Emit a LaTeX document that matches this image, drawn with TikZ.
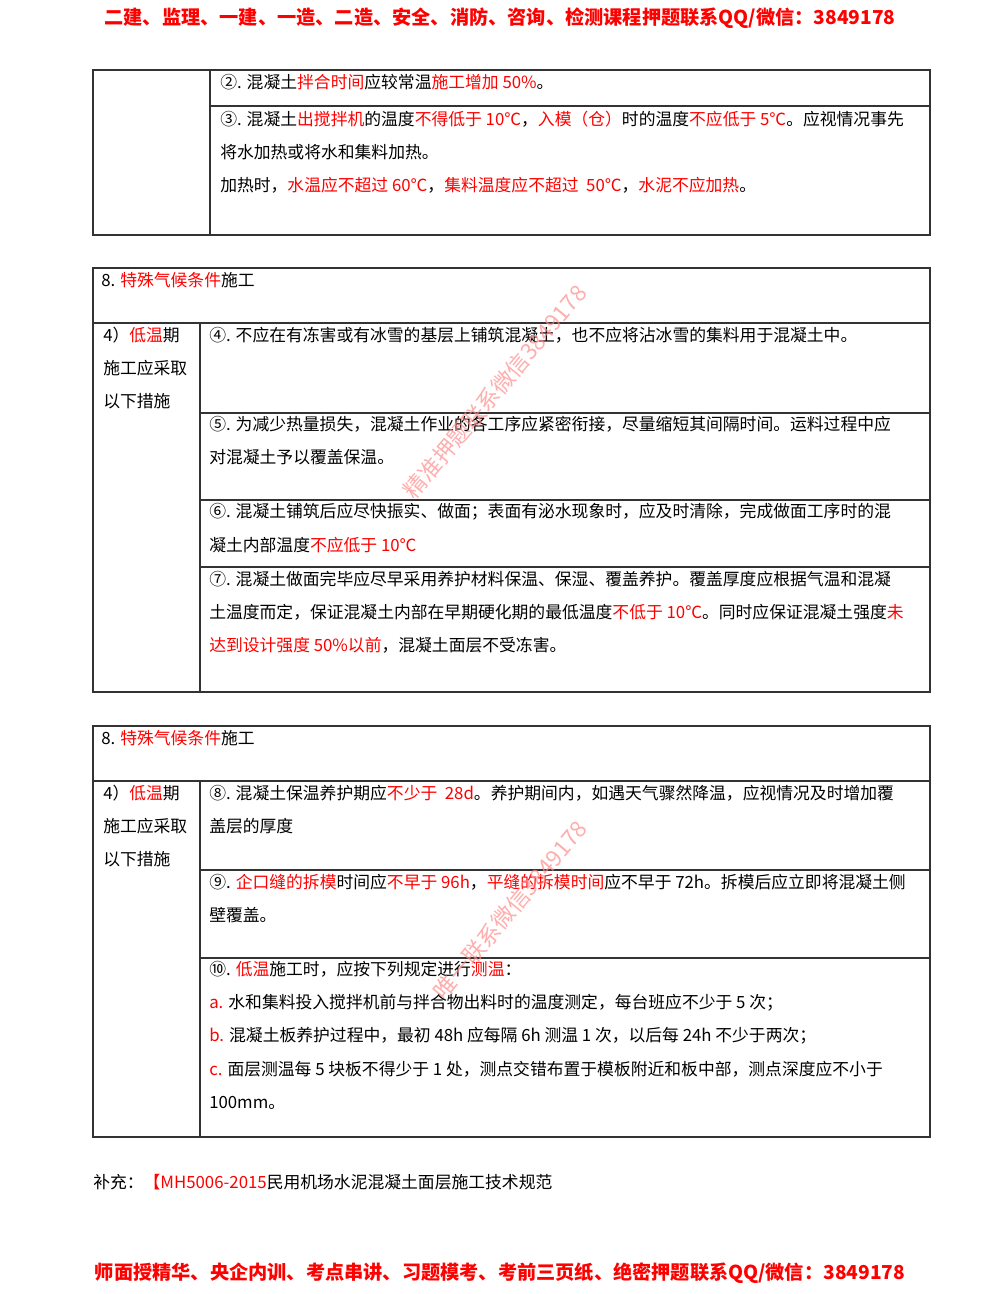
\documentclass[tikz,border=0pt]{standalone}
\usepackage{fontspec}
\setmainfont{Noto Sans CJK SC}
\begin{document}
\begin{tikzpicture}[x=0.75pt,y=-0.75pt,
  tx/.style={anchor=west,inner sep=0,font=\fontsize{12.6}{12.6}\selectfont},
  hd/.style={font=\fontsize{14.4}{14.4}\selectfont\bfseries,text=red,inner sep=0},
  wm/.style={font=\fontsize{17}{17}\selectfont,text=red!45,opacity=0.7,rotate=50,inner sep=0},
  ln/.style={line width=0.8pt,draw=black!80}]
\newcommand\rd[1]{\textcolor{red}{#1}}
\useasboundingbox[fill=white] (0,0) rectangle (1000,1294);
\node[hd] (h1) at (500,18) {二建、监理、一建、一造、二造、安全、消防、咨询、检测课程押题联系QQ/微信：3849178};
% table 1
\draw[ln] (93,70) rectangle (930,235);
\draw[ln] (210,70) -- (210,235);
\draw[ln] (210,106) -- (930,106);
\node[tx] (t1a) at (220,82) {②. 混凝土\rd{拌合时间}应较常温\rd{施工增加 50\%}。};
\node[tx] (t1b) at (220,119) {③. 混凝土\rd{出搅拌机}的温度\rd{不得低于 10℃}，\rd{入模（仓）}时的温度\rd{不应低于 5℃}。应视情况事先};
\node[tx] (t1c) at (220,152) {将水加热或将水和集料加热。};
\node[tx] (t1d) at (220,185) {加热时，\rd{水温应不超过 60℃}，\rd{集料温度应不超过\ \ 50℃}，\rd{水泥不应加热}。};
% table 2
\draw[ln] (93,268) rectangle (930,692);
\draw[ln] (93,323) -- (930,323);
\draw[ln] (200,323) -- (200,692);
\foreach \yy in {413,500,567} \draw[ln] (200,\yy) -- (930,\yy);
\node[tx] (t2h) at (101,280) {8. \rd{特殊气候条件}施工};
\node[tx] (t2l1) at (103,335) {4）\rd{低温}期};
\node[tx] (t2l2) at (103,368) {施工应采取};
\node[tx] (t2l3) at (103,401) {以下措施};
\node[tx] (t2a) at (209,335) {④. 不应在有冻害或有冰雪的基层上铺筑混凝土，也不应将沾冰雪的集料用于混凝土中。};
\node[tx] (t2b) at (209,424) {⑤. 为减少热量损失，混凝土作业的各工序应紧密衔接，尽量缩短其间隔时间。运料过程中应};
\node[tx] (t2c) at (209,457) {对混凝土予以覆盖保温。};
\node[tx] (t2d) at (209,512) {⑥. 混凝土铺筑后应尽快振实、做面；表面有泌水现象时，应及时清除，完成做面工序时的混};
\node[tx] (t2e) at (209,545) {凝土内部温度\rd{不应低于 10℃}};
\node[tx] (t2f) at (209,579) {⑦. 混凝土做面完毕应尽早采用养护材料保温、保湿、覆盖养护。覆盖厚度应根据气温和混凝};
\node[tx] (t2g) at (209,612) {土温度而定，保证混凝土内部在早期硬化期的最低温度\rd{不低于 10℃}。同时应保证混凝土强度\rd{未}};
\node[tx] (t2h2) at (209,645) {\rd{达到设计强度 50\%以前}，混凝土面层不受冻害。};
% table 3
\draw[ln] (93,726) rectangle (930,1137);
\draw[ln] (93,781) -- (930,781);
\draw[ln] (200,781) -- (200,1137);
\foreach \yy in {870,958} \draw[ln] (200,\yy) -- (930,\yy);
\node[tx] (t3h) at (101,738) {8. \rd{特殊气候条件}施工};
\node[tx] (t3l1) at (103,793) {4）\rd{低温}期};
\node[tx] (t3l2) at (103,826) {施工应采取};
\node[tx] (t3l3) at (103,859) {以下措施};
\node[tx] (t3a) at (209,793) {⑧. 混凝土保温养护期应\rd{不少于\ \ 28d}。养护期间内，如遇天气骤然降温，应视情况及时增加覆};
\node[tx] (t3b) at (209,826) {盖层的厚度};
\node[tx] (t3c) at (209,882) {⑨. \rd{企口缝的拆模}时间应\rd{不早于 96h}，\rd{平缝的拆模时间}应不早于 72h。拆模后应立即将混凝土侧};
\node[tx] (t3d) at (209,915) {壁覆盖。};
\node[tx] (t3e) at (209,969) {⑩. \rd{低温}施工时，应按下列规定进行\rd{测温}：};
\node[tx] (t3f) at (209,1003) {\rd{a.} 水和集料投入搅拌机前与拌合物出料时的温度测定，每台班应不少于 5 次；};
\node[tx] (t3g) at (209,1036) {\rd{b.} 混凝土板养护过程中，最初 48h 应每隔 6h 测温 1 次，以后每 24h 不少于两次；};
\node[tx] (t3h2) at (209,1069) {\rd{c.} 面层测温每 5 块板不得少于 1 处，测点交错布置于模板附近和板中部，测点深度应不小于};
\node[tx] (t3i) at (209,1103) {100mm。};
\node[tx] (sup) at (93,1182) {补充：\rd{【MH5006-2015}民用机场水泥混凝土面层施工技术规范};
\node[hd] (h2) at (500,1273) {师面授精华、央企内训、考点串讲、习题模考、考前三页纸、绝密押题联系QQ/微信：3849178};
\node[wm] (w1) at (495,392) {精准押题联系微信3849178};
\node[wm] (w2) at (510,910) {唯一联系微信3849178};
\end{tikzpicture}
\end{document}
